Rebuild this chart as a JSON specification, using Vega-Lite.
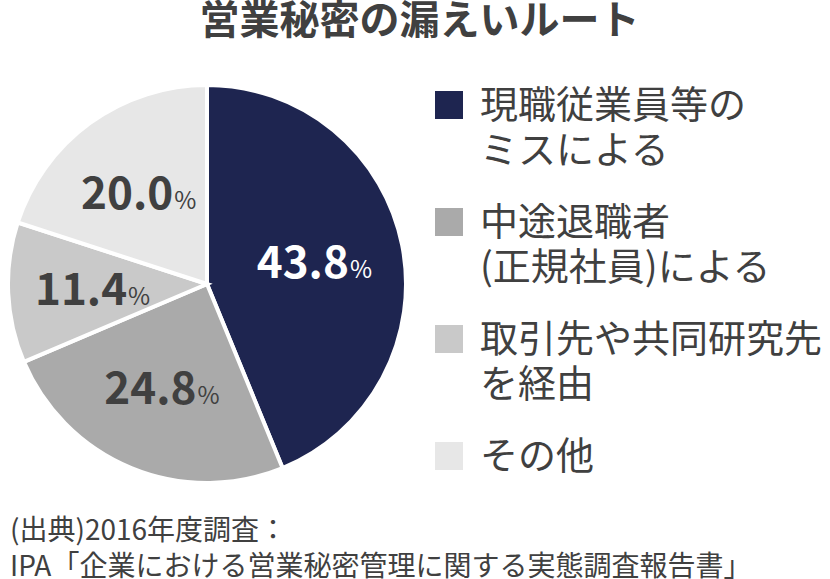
{
  "$schema": "https://vega.github.io/schema/vega-lite/v6.json",
  "background": "white",
  "padding": {"left": 0, "top": 2, "right": 0, "bottom": 0},
  "title": {
    "text": "営業秘密の漏えいルート",
    "fontSize": 40,
    "fontWeight": "bold",
    "color": "#404040",
    "anchor": "middle",
    "frame": "bounds",
    "dx": 8,
    "offset": 35
  },
  "vconcat": [
    {
      "width": 394,
      "height": 394,
      "title": {
        "text": ["(出典)2016年度調査：", "IPA「企業における営業秘密管理に関する実態調査報告書」"],
        "orient": "bottom",
        "anchor": "start",
        "frame": "group",
        "baseline": "top",
        "fontSize": 28,
        "fontWeight": "normal",
        "lineHeight": 36,
        "color": "#404040",
        "offset": 27
      },
      "data": {
        "values": [
          {"category": "現職従業員等の\nミスによる", "value": 43.8, "order": 1},
          {"category": "中途退職者\n(正規社員)による", "value": 24.8, "order": 2},
          {"category": "取引先や共同研究先\nを経由", "value": 11.4, "order": 3},
          {"category": "その他", "value": 20.0, "order": 4}
        ]
      },
      "encoding": {
        "theta": {"field": "value", "type": "quantitative", "stack": true},
        "order": {"field": "order", "type": "quantitative"}
      },
      "layer": [
        {
          "mark": {"type": "arc", "outerRadius": 199, "stroke": "white", "strokeWidth": 4},
          "encoding": {
            "color": {
              "field": "category",
              "type": "nominal",
              "scale": {
                "domain": ["現職従業員等の\nミスによる", "中途退職者\n(正規社員)による", "取引先や共同研究先\nを経由", "その他"],
                "range": ["#1e2550", "#aaaaaa", "#c9c9c9", "#e7e7e7"]
              },
              "legend": {
                "title": null,
                "orient": "none",
                "legendX": 420,
                "legendY": -1,
                "padding": 0,
                "symbolType": "square",
                "symbolSize": 784,
                "symbolStrokeWidth": 0,
                "labelFontSize": 38,
                "labelColor": "#404040",
                "labelLimit": 0,
                "labelOffset": 12,
                "labelBaseline": "top",
                "rowPadding": 32,
                "labelExpr": "split(datum.label, '\\n')"
              }
            }
          }
        },
        {
          "mark": {"type": "text", "radius": 112, "fontSize": 44, "fontWeight": "bold", "align": "right", "baseline": "alphabetic", "dx": 32, "dy": 16},
          "encoding": {
            "text": {"field": "value", "type": "quantitative", "format": ".1f"},
            "color": {"condition": {"test": "datum.order === 1", "value": "white"}, "value": "#404040"}
          }
        },
        {
          "mark": {"type": "text", "radius": 112, "fontSize": 24, "align": "left", "baseline": "alphabetic", "dx": 33, "dy": 16},
          "encoding": {
            "text": {"value": "%"},
            "color": {"condition": {"test": "datum.order === 1", "value": "white"}, "value": "#404040"}
          }
        }
      ]
    }
  ],
  "config": {
    "font": "Noto Sans CJK JP",
    "view": {"stroke": null},
    "concat": {"spacing": 0},
    "style": {"guide-label": {"lineHeight": 45, "dy": -17}}
  }
}
